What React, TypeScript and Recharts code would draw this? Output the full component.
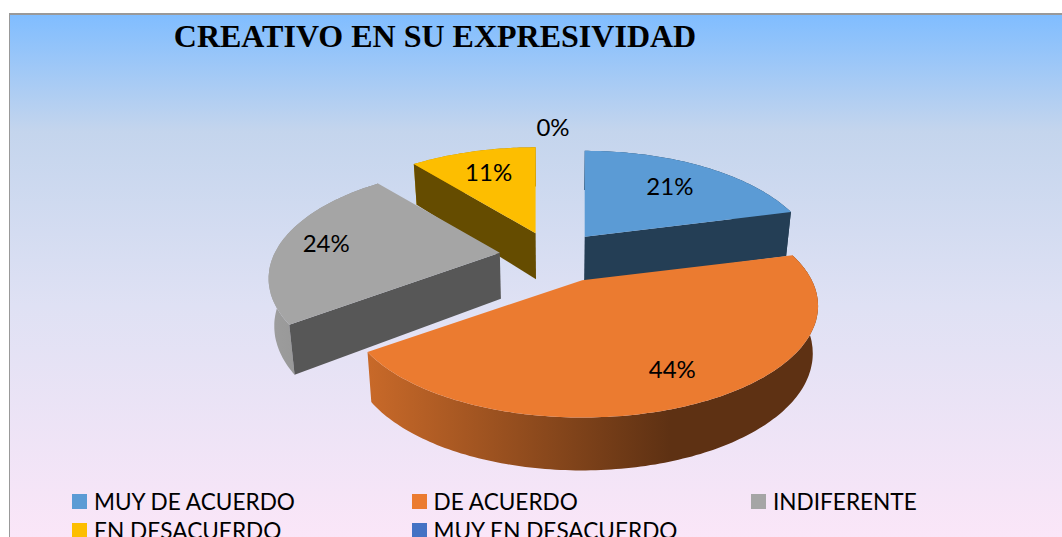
import { PieChart, Pie, Legend } from "recharts";

const categories = ["MUY DE ACUERDO", "DE ACUERDO", "INDIFERENTE", "EN DESACUERDO", "MUY EN DESACUERDO"];
const values = [21, 44, 24, 11, 0];
const colors = ["#5B9BD5", "#EB7B30", "#A5A5A5", "#FDBE00", "#4472C4"];
const sideShades = [0.4, 0.5, 0.53, 0.4, 0.4];
const labelReach = [0.73, 0.73, 0.8, 0.75, 1.23];
const explodeX = [0.24, 0.29, 0.24, 0.24, 0.24];
const widthScale = [1, 1.02, 1, 1, 1];

const rows = categories.map((name, i) => ({ name, value: values[i], fill: colors[i] }));

// fake 3D look: tilt + a bit of perspective on the pie's own angles
const RADIUS = 225;
const CX = 548;
const CY = 251;
const TILT = 0.47;
const PERSP = 0.23;
const EXPLODE = 0.24;
const DEPTH = 46;

const shade = (hex: string, f: number) => {
  const n = parseInt(hex.slice(1), 16);
  const c = [n >> 16, (n >> 8) & 255, n & 255].map((v) => Math.round(v * f));
  return `rgb(${c.join(",")})`;
};

const apexOf = (cx: number, cy: number, r: number, mid: number, i: number) => {
  const a = (mid * Math.PI) / 180;
  const w = 1 + PERSP * EXPLODE * Math.sin(a);
  return [cx + (explodeX[i] * r * Math.cos(a)) / w, cy - (EXPLODE * r * TILT * Math.sin(a)) / w];
};

const rimPoint = (ax: number, ay: number, r: number, deg: number, i: number) => {
  const a = (deg * Math.PI) / 180;
  const w = 1 + PERSP * Math.sin(a);
  return [ax + (r * widthScale[i] * Math.cos(a)) / w, ay - (r * TILT * Math.sin(a)) / w, Math.sin(a)];
};

const drop = (p: number[], cx: number) => [
  cx + (p[0] - cx) * 0.98,
  p[1] + DEPTH * (1 - 0.15 * (p[2] ?? 0)),
];

const toPath = (pts: number[][]) =>
  "M" + pts.map((p) => `${p[0].toFixed(1)},${p[1].toFixed(1)}`).join("L") + "Z";

// a cut face only shows when the slice's top lies above its edge on screen
const faceShows = (apex: number[], p: number[], mid: number[]) => {
  const dx = p[0] - apex[0];
  if (Math.abs(dx) < 1) return false;
  const edgeY = apex[1] + ((p[1] - apex[1]) * (mid[0] - apex[0])) / dx;
  return mid[1] < edgeY;
};

const sliceShape = (layer: number[]) => (props: any) => {
  const { cx, cy, outerRadius, startAngle, endAngle, fill, index } = props;
  const i = index ?? categories.findIndex((c) => c === props.name);
  if (!layer.includes(i) || startAngle === endAngle) return <g />;
  const [ax, ay] = apexOf(cx, cy, outerRadius, (startAngle + endAngle) / 2, i);
  const steps = Math.max(2, Math.ceil(Math.abs(startAngle - endAngle)));
  const arc: number[][] = [];
  for (let s = 0; s <= steps; s++) {
    arc.push(rimPoint(ax, ay, outerRadius, startAngle + ((endAngle - startAngle) * s) / steps, i));
  }
  const apex = [ax, ay, 0];
  const midArc = arc[Math.round(steps / 2)];
  const side = shade(fill, sideShades[i]);
  const face = (p: number[]) => toPath([apex, p, drop(p, cx), drop(apex, cx)]);
  return (
    <g>
      <path d={toPath([...arc, ...arc.map((p) => drop(p, cx)).reverse()])} fill={`url(#rim${i})`} />
      {[arc[0], arc[steps]]
        .filter((p) => faceShows(apex, p, midArc))
        .map((p, k) => (
          <path key={k} d={face(p)} fill={side} />
        ))}
      <path d={toPath([apex, ...arc])} fill={fill} />
    </g>
  );
};

const renderLabel = (props: any) => {
  const { cx, cy, outerRadius, midAngle, percent, index } = props;
  const [ax, ay] = apexOf(cx, cy, outerRadius, midAngle, index);
  const p = rimPoint(ax, ay, outerRadius * labelReach[index], midAngle, index);
  return (
    <text x={p[0]} y={p[1]} textAnchor="middle" dominantBaseline="central" fontFamily="Lato" fontSize={24} fill="#000">
      {`${Math.round(percent * 100)}%`}
    </text>
  );
};

const renderLegend = () => (
  <div style={{ display: "grid", gridTemplateColumns: "339.5px 339.5px 300px", rowGap: 3 }}>
    {categories.map((name, i) => (
      <div key={name} style={{ display: "flex", alignItems: "center", height: 26, fontFamily: "Lato", fontSize: 22.6, color: "#000", whiteSpace: "nowrap" }}>
        <span style={{ width: 15, height: 15, background: colors[i], marginRight: 7 }} />
        {name}
      </div>
    ))}
  </div>
);

export default function App() {
  return (
    <div style={{ position: "absolute", left: 0, top: 0, width: 1062, height: 537, overflow: "hidden", background: "#fff" }}>
      <div
        style={{
          position: "absolute",
          left: 9,
          top: 13,
          width: 1060,
          height: 530,
          boxSizing: "border-box",
          borderLeft: "1px solid #999",
          borderTop: "2px solid #999",
          background: "linear-gradient(180deg, #80BDFF 0%, #C4D5ED 22%, #DFE1F4 55%, #FBE6F8 100%)",
        }}
      />
      <div style={{ position: "absolute", left: 0, top: 0 }}>
        <PieChart width={1062} height={537}>
          <defs>
            {colors.map((c, i) => (
              <linearGradient key={c} id={`rim${i}`} gradientUnits="userSpaceOnUse" x1={270} x2={818} y1={0} y2={0}>
                <stop offset="0%" stopColor={shade(c, 0.95)} />
                <stop offset="18%" stopColor={shade(c, 0.85)} />
                <stop offset="73%" stopColor={shade(c, 0.4)} />
                <stop offset="100%" stopColor={shade(c, 0.4)} />
              </linearGradient>
            ))}
          </defs>
          <text x={435} y={47} textAnchor="middle" fontFamily="Liberation Serif" fontWeight="bold" fontSize={32} fill="#000">
            CREATIVO EN SU EXPRESIVIDAD
          </text>
          <Pie
            data={rows}
            dataKey="value"
            nameKey="name"
            cx={CX}
            cy={CY}
            outerRadius={RADIUS}
            startAngle={90}
            endAngle={-270}
            stroke="none"
            legendType="none"
            isAnimationActive={false}
            shape={sliceShape([3, 0])}
          />
          <Pie
            data={rows}
            dataKey="value"
            nameKey="name"
            cx={CX}
            cy={CY}
            outerRadius={RADIUS}
            startAngle={90}
            endAngle={-270}
            stroke="none"
            isAnimationActive={false}
            shape={sliceShape([2, 1])}
            label={renderLabel}
            labelLine={false}
          />
          <Legend content={renderLegend} wrapperStyle={{ left: 72, top: 488, width: 980, bottom: "auto" }} />
        </PieChart>
      </div>
    </div>
  );
}
